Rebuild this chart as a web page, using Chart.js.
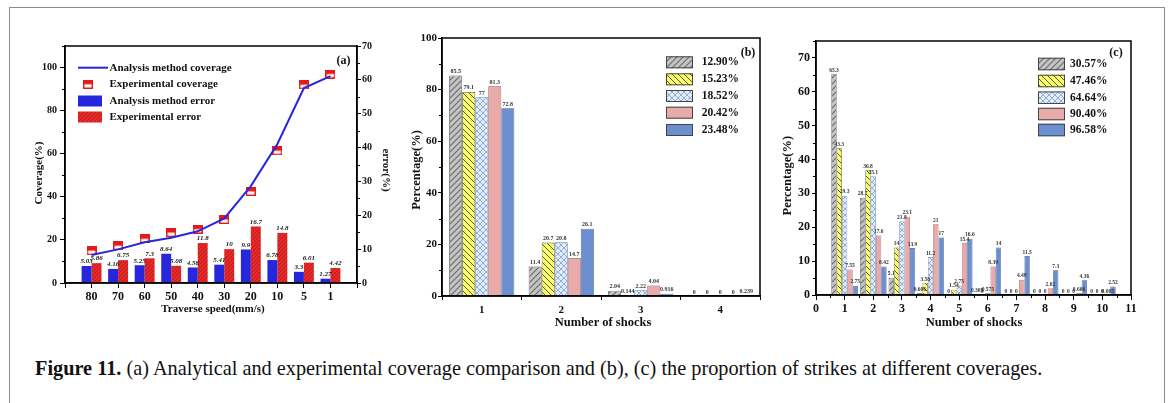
<!DOCTYPE html>
<html><head><meta charset="utf-8">
<script src="https://cdn.jsdelivr.net/npm/chart.js@4.4.0/dist/chart.umd.min.js"></script>
<style>
html,body{margin:0;padding:0;background:#fff;}
body{width:1168px;height:403px;position:relative;overflow:hidden;}
#frame{position:absolute;left:9px;top:7px;width:1156px;height:420px;border:1px solid #8c8c8c;box-sizing:border-box;}
canvas{position:absolute;}
#ca{left:20px;top:20px;}
#cb{left:390px;top:20px;}
#cc{left:770px;top:20px;}
#caption{position:absolute;left:35px;top:357px;font-family:"Liberation Serif",serif;font-size:20.3px;line-height:22px;white-space:nowrap;color:#111;}
</style></head>
<body>
<div id="frame"></div>
<canvas id="ca" width="380" height="300"></canvas>
<canvas id="cb" width="385" height="315"></canvas>
<canvas id="cc" width="390" height="315"></canvas>
<div id="caption"><b>Figure 11.</b> (a) Analytical and experimental coverage comparison and (b), (c) the proportion of strikes at different coverages.</div>
<script>
// ---------------- DATA ----------------
// Panel (a)
const speedLabels = ['80','70','60','50','40','30','20','10','5','1'];
const analysisCoverage = [13.0, 15.6, 18.9, 21.0, 24.0, 30.0, 45.0, 64.5, 90.5, 96.0];
const experimentalCoverage = [15.0, 17.3, 20.5, 23.4, 25.0, 29.5, 42.5, 61.4, 92.0, 97.0];
const analysisError = [5.03, 4.16, 5.25, 8.64, 4.58, 5.41, 9.9, 6.78, 3.3, 1.27];
const experimentalError = [5.86, 6.75, 7.3, 5.08, 11.8, 10, 16.7, 14.8, 6.01, 4.42];
const coverageTicks = [0, 20, 40, 60, 80, 100];
const errorTicks = [0, 10, 20, 30, 40, 50, 60, 70];
const legendA = ['Analysis method coverage', 'Experimental coverage', 'Analysis method error', 'Experimental error'];

// Panel (b)
const shocksB = ['1', '2', '3', '4'];
const seriesNamesB = ['12.90%', '15.23%', '18.52%', '20.42%', '23.48%'];
const b1290 = [85.5, 11.4, 2.04, 0];
const b1523 = [79.1, 20.7, 0.144, 0];
const b1852 = [77, 20.8, 2.22, 0];
const b2042 = [81.3, 14.7, 4.04, 0];
const b2348 = [72.8, 26.1, 0.916, 0.239];
const percentTicksB = [0, 20, 40, 60, 80, 100];

// Panel (c)
const xLabelsC = ['0','1','2','3','4','5','6','7','8','9','10','11'];
const seriesNamesC = ['30.57%', '47.46%', '64.64%', '90.40%', '96.58%'];
const c3057 = [65.3, 28.7, 5.1, 0.606, 0, 0.305, 0, 0, 0, 0];
const c4746 = [43.3, 36.8, 14.0, 3.58, 1.54, 0, 0, 0, 0, 0];
const c6464 = [29.3, 35.1, 21.8, 11.2, 2.75, 0.575, 0, 0, 0, 0];
const c9040 = [7.55, 17.6, 23.1, 21, 15.4, 8.39, 4.49, 2.02, 0.606, 0.005];
const c9658 = [2.75, 8.42, 13.9, 17, 16.6, 14, 11.5, 7.3, 4.36, 2.52];
const percentTicksC = [0, 10, 20, 30, 40, 50, 60, 70];

// ---------------- HELPERS ----------------
const SERIF = '"Liberation Serif", "Times New Roman", serif';
function hatch(ctx, bg, fg, kind, size, lw) {
  const c = document.createElement('canvas'); c.width = c.height = size;
  const g = c.getContext('2d');
  g.fillStyle = bg; g.fillRect(0, 0, size, size);
  g.strokeStyle = fg; g.lineWidth = lw;
  const s = size;
  const fwd = () => { g.beginPath(); g.moveTo(-1, s + 1); g.lineTo(s + 1, -1); g.moveTo(-1, 1); g.lineTo(1, -1); g.moveTo(s - 1, s + 1); g.lineTo(s + 1, s - 1); g.stroke(); };
  const back = () => { g.beginPath(); g.moveTo(-1, -1); g.lineTo(s + 1, s + 1); g.moveTo(s - 1, -1); g.lineTo(s + 1, 1); g.moveTo(-1, s - 1); g.lineTo(1, s + 1); g.stroke(); };
  if (kind === '/' || kind === 'x') fwd();
  if (kind === '\\' || kind === 'x') back();
  return ctx.createPattern(c, 'repeat');
}
function makeMarker() {
  const c = document.createElement('canvas'); c.width = 10; c.height = 9;
  const g = c.getContext('2d');
  g.fillStyle = '#fff'; g.fillRect(0, 0, 10, 9);
  g.fillStyle = '#e41b1b'; g.fillRect(0, 0, 10, 4.5);
  g.strokeStyle = '#e41b1b'; g.lineWidth = 1.4; g.strokeRect(0.7, 0.7, 8.6, 7.6);
  return c;
}
const valueLabels = {
  id: 'valueLabels',
  afterDatasetsDraw(chart, args, opts) {
    const ctx = chart.ctx;
    ctx.save();
    ctx.font = opts.font; ctx.fillStyle = opts.color || '#222';
    ctx.textAlign = 'center'; ctx.textBaseline = 'bottom';
    chart.data.datasets.forEach((ds, di) => {
      const meta = chart.getDatasetMeta(di);
      if (meta.type !== 'bar') return;
      meta.data.forEach((el, i) => {
        const v = ds.data[i];
        if (v === null || v === undefined) return;
        ctx.fillText(String(v), el.x, el.y - 1);
      });
    });
    ctx.restore();
  }
};
function frame(chart) {
  const a = chart.chartArea, ctx = chart.ctx;
  ctx.save(); ctx.strokeStyle = '#000'; ctx.lineWidth = 1.5;
  ctx.strokeRect(a.left, a.top, a.right - a.left, a.bottom - a.top);
  ctx.restore();
}
function minorY(chart, scale, values, side, len) {
  const a = chart.chartArea, ctx = chart.ctx;
  ctx.save(); ctx.strokeStyle = '#000'; ctx.lineWidth = 1;
  ctx.beginPath();
  values.forEach(v => {
    const y = Math.round(scale.getPixelForValue(v)) + 0.5;
    const x0 = side === 'left' ? a.left : a.right;
    const x1 = side === 'left' ? a.left - len : a.right + len;
    ctx.moveTo(x0, y); ctx.lineTo(x1, y);
  });
  ctx.stroke(); ctx.restore();
}
function minorX(chart, pixels, len) {
  const a = chart.chartArea, ctx = chart.ctx;
  ctx.save(); ctx.strokeStyle = '#000'; ctx.lineWidth = 1;
  ctx.beginPath();
  pixels.forEach(px => { const x = Math.round(px) + 0.5; ctx.moveTo(x, a.bottom); ctx.lineTo(x, a.bottom + len); });
  ctx.stroke(); ctx.restore();
}
function text(ctx, s, x, y, font, align, rot) {
  ctx.save(); ctx.font = font; ctx.fillStyle = '#111';
  ctx.textAlign = align || 'center'; ctx.textBaseline = 'middle';
  ctx.translate(x, y); if (rot) ctx.rotate(rot);
  ctx.fillText(s, 0, 0); ctx.restore();
}
const pad = arr => [null, ...arr, null];
const tickFont = (size) => ({ family: SERIF, size: size, weight: 'bold' });

// ---------------- PANEL (a) ----------------
const ctxA = document.getElementById('ca').getContext('2d');
const redPattern = hatch(ctxA, '#e32a2a', '#c01414', '/', 4, 0.8);
const blueA = '#2626dc';
const marker = makeMarker();
const decorA = {
  id: 'decorA',
  afterDraw(chart) {
    const ctx = chart.ctx;
    frame(chart);
    minorY(chart, chart.scales.y, [10, 30, 50, 70, 90, 110], 'left', 3);
    minorY(chart, chart.scales.y1, [5, 15, 25, 35, 45, 55, 65], 'right', 3);
    const fL = 'bold 11px ' + SERIF;
    text(ctx, 'Coverage(%)', 19, 153, fL, 'center', -Math.PI / 2);
    text(ctx, 'error(%)', 366, 150, fL, 'center', Math.PI / 2);
    text(ctx, 'Traverse speed(mm/s)', 193, 289.5, fL, 'center');
    text(ctx, '(a)', 323.5, 41, 'bold 12px ' + SERIF, 'center');
    // legend
    const lx = 58, ys = [47.7, 64.3, 81, 97];
    ctx.save();
    ctx.strokeStyle = blueA; ctx.lineWidth = 2;
    ctx.beginPath(); ctx.moveTo(lx, ys[0]); ctx.lineTo(lx + 30, ys[0]); ctx.stroke();
    ctx.drawImage(marker, lx + 10 - 5, ys[1] - 4.5);
    ctx.fillStyle = blueA; ctx.fillRect(lx, ys[2] - 5.5, 24, 11);
    ctx.fillStyle = redPattern; ctx.fillRect(lx, ys[3] - 5.5, 24, 11);
    ctx.restore();
    legendA.forEach((s, i) => text(ctx, s, 89.5, ys[i], fL, 'left'));
  }
};
new Chart(ctxA, {
  type: 'bar',
  data: {
    labels: ['', ...speedLabels, ''],
    datasets: [
      { type: 'line', label: legendA[0], data: pad(analysisCoverage), yAxisID: 'y', borderColor: blueA, borderWidth: 2, pointRadius: 0, tension: 0, order: 0 },
      { type: 'line', label: legendA[1], data: pad(experimentalCoverage), yAxisID: 'y', showLine: false, pointStyle: marker, pointRadius: 5, order: 0 },
      { label: legendA[2], data: pad(analysisError), yAxisID: 'y1', backgroundColor: blueA, order: 1 },
      { label: legendA[3], data: pad(experimentalError), yAxisID: 'y1', backgroundColor: redPattern, order: 1 }
    ]
  },
  options: {
    responsive: false, animation: false, devicePixelRatio: 1,
    layout: { padding: { top: 26, left: 0, right: 0, bottom: 0 } },
    datasets: { bar: { categoryPercentage: 0.75, barPercentage: 1 } },
    plugins: { legend: { display: false }, tooltip: { enabled: false }, valueLabels: { font: 'italic bold 7px ' + SERIF, color: '#222' } },
    scales: {
      x: { offset: false, grid: { offset: false, drawOnChartArea: false, tickLength: 5, color: '#000' }, border: { color: '#000', width: 1.5 },
           ticks: { font: tickFont(12), color: '#111', padding: 2, autoSkip: false, maxRotation: 0 }, afterFit(s) { s.height = 37; } },
      y: { position: 'left', min: 0, max: 110, afterBuildTicks(s) { s.ticks = coverageTicks.map(v => ({ value: v })); },
           grid: { drawOnChartArea: false, tickLength: 5, color: '#000' }, border: { color: '#000', width: 1.5 },
           ticks: { font: tickFont(10), color: '#111', padding: 3 }, afterFit(s) { s.width = 45; } },
      y1: { position: 'right', min: 0, max: 70, afterBuildTicks(s) { s.ticks = errorTicks.map(v => ({ value: v })); },
            grid: { drawOnChartArea: false, tickLength: 4, color: '#000' }, border: { color: '#000', width: 1.5 },
            ticks: { font: tickFont(10), color: '#111', padding: 1 }, afterFit(s) { s.width = 43; } }
    }
  },
  plugins: [valueLabels, decorA]
});

// ---------------- PANELS (b), (c) styles ----------------
function barStyles(ctx) {
  return [
    { backgroundColor: hatch(ctx, '#c4c4c4', '#6a6a6a', '/', 6, 1.1), borderColor: '#555' },
    { backgroundColor: hatch(ctx, '#fbfb6e', '#5a5a28', '\\', 6, 1.0), borderColor: '#555' },
    { backgroundColor: hatch(ctx, '#e2ecf9', '#86a6d6', 'x', 6, 0.9), borderColor: '#6680aa' },
    { backgroundColor: '#e9aaaa', borderColor: '#8a5a5a' },
    { backgroundColor: '#6b8fcf', borderColor: '#3f5a8f' }
  ];
}
function drawLegendBC(chart, names, styles, px, ys, tx, h) {
  const ctx = chart.ctx;
  ys.forEach((y, i) => {
    ctx.save();
    ctx.fillStyle = styles[i].backgroundColor; ctx.fillRect(px, y - h / 2, 27, h);
    ctx.strokeStyle = '#444'; ctx.lineWidth = 1; ctx.strokeRect(px + 0.5, y - h / 2 + 0.5, 26, h - 1);
    ctx.restore();
    text(ctx, names[i], tx, y, 'bold 11.5px ' + SERIF, 'left');
  });
}

// ---------------- PANEL (b) ----------------
const ctxB = document.getElementById('cb').getContext('2d');
const stylesB = barStyles(ctxB);
const dataB = [b1290, b1523, b1852, b2042, b2348];
const decorB = {
  id: 'decorB',
  afterDraw(chart) {
    const ctx = chart.ctx;
    frame(chart);
    minorY(chart, chart.scales.y, [10, 30, 50, 70, 90], 'left', 3);
    text(ctx, 'Percentage(%)', 26.7, 150, 'bold 12.5px ' + SERIF, 'center', -Math.PI / 2);
    text(ctx, 'Number of shocks', 213, 303, 'bold 12.5px ' + SERIF, 'center');
    text(ctx, '(b)', 358, 33, 'bold 12px ' + SERIF, 'center');
    drawLegendBC(chart, seriesNamesB, stylesB, 276, [42.3, 59.3, 76, 92.7, 110], 311.7, 12);
  }
};
new Chart(ctxB, {
  type: 'bar',
  data: {
    labels: shocksB,
    datasets: dataB.map((d, i) => ({ label: seriesNamesB[i], data: d, backgroundColor: stylesB[i].backgroundColor, borderColor: stylesB[i].borderColor, borderWidth: 0.8 }))
  },
  options: {
    responsive: false, animation: false, devicePixelRatio: 1,
    layout: { padding: { top: 18, left: 0, right: 15, bottom: 0 } },
    datasets: { bar: { categoryPercentage: 0.82, barPercentage: 1 } },
    plugins: { legend: { display: false }, tooltip: { enabled: false }, valueLabels: { font: 'bold 6px ' + SERIF, color: '#333' } },
    scales: {
      x: { grid: { drawOnChartArea: false, tickLength: 4, color: '#000' }, border: { color: '#000', width: 1.5 },
           ticks: { font: tickFont(11), color: '#111', padding: 4 }, afterFit(s) { s.height = 39; } },
      y: { min: 0, max: 100, afterBuildTicks(s) { s.ticks = percentTicksB.map(v => ({ value: v })); },
           grid: { drawOnChartArea: false, tickLength: 4, color: '#000' }, border: { color: '#000', width: 1.5 },
           ticks: { font: tickFont(11), color: '#111', padding: 1 }, afterFit(s) { s.width = 52; } }
    }
  },
  plugins: [valueLabels, decorB]
});

// ---------------- PANEL (c) ----------------
const ctxC = document.getElementById('cc').getContext('2d');
const stylesC = barStyles(ctxC);
const dataC = [c3057, c4746, c6464, c9040, c9658];
const decorC = {
  id: 'decorC',
  afterDraw(chart) {
    const ctx = chart.ctx;
    frame(chart);
    minorY(chart, chart.scales.y, [5, 15, 25, 35, 45, 55, 65, 75], 'left', 3);
    const xs = chart.scales.x;
    const halves = [];
    for (let i = 0; i < xLabelsC.length - 1; i++) halves.push((xs.getPixelForValue(i) + xs.getPixelForValue(i + 1)) / 2);
    minorX(chart, halves, 3);
    text(ctx, 'Percentage(%)', 17.3, 155.7, 'bold 12.5px ' + SERIF, 'center', -Math.PI / 2);
    text(ctx, 'Number of shocks', 204, 302.7, 'bold 12.5px ' + SERIF, 'center');
    text(ctx, '(c)', 346, 33, 'bold 12px ' + SERIF, 'center');
    drawLegendBC(chart, seriesNamesC, stylesC, 268, [44, 61, 77.7, 94, 110], 300, 12.5);
  }
};
new Chart(ctxC, {
  type: 'bar',
  data: {
    labels: xLabelsC,
    datasets: dataC.map((d, i) => ({ label: seriesNamesC[i], data: pad(d), backgroundColor: stylesC[i].backgroundColor, borderColor: stylesC[i].borderColor, borderWidth: 0.7 }))
  },
  options: {
    responsive: false, animation: false, devicePixelRatio: 1,
    layout: { padding: { top: 21, left: 0, right: 29, bottom: 0 } },
    datasets: { bar: { categoryPercentage: 0.93, barPercentage: 1 } },
    plugins: { legend: { display: false }, tooltip: { enabled: false }, valueLabels: { font: 'bold 5.5px ' + SERIF, color: '#333' } },
    scales: {
      x: { offset: false, grid: { offset: false, drawOnChartArea: false, tickLength: 5, color: '#000' }, border: { color: '#000', width: 1.5 },
           ticks: { font: tickFont(12), color: '#111', padding: 2, autoSkip: false, maxRotation: 0 }, afterFit(s) { s.height = 40; } },
      y: { min: 0, max: 75, afterBuildTicks(s) { s.ticks = percentTicksC.map(v => ({ value: v })); },
           grid: { drawOnChartArea: false, tickLength: 4, color: '#000' }, border: { color: '#000', width: 1.5 },
           ticks: { font: tickFont(12), color: '#111', padding: 2 }, afterFit(s) { s.width = 46; } }
    }
  },
  plugins: [valueLabels, decorC]
});
</script>
</body></html>
